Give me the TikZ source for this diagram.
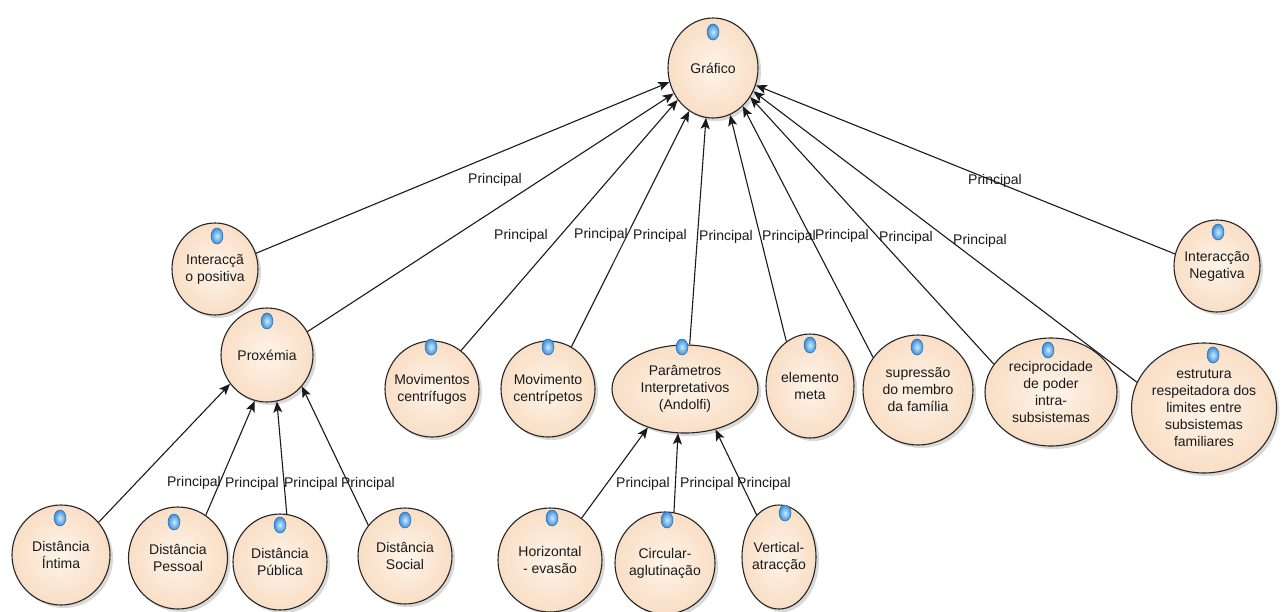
\documentclass[tikz,border=0pt]{standalone}
\usepackage{fontspec}
\setmainfont{Liberation Sans}
\usetikzlibrary{shapes.geometric,arrows.meta,shadows}
\definecolor{ink}{HTML}{1A1A1A}
\definecolor{peachin}{HTML}{FEF4EA}
\definecolor{peachout}{HTML}{F9DEC5}
\definecolor{rim}{HTML}{262626}
\definecolor{dotblue}{HTML}{3A8EDB}
\definecolor{dotlight}{HTML}{CDEBFF}

\tikzset{
  concept/.style={ellipse, draw=rim, line width=1.1pt, inner sep=-6pt, align=center,
    inner color=peachin, outer color=peachout, text=ink,
    font=\fontsize{14}{17}\selectfont,
    drop shadow={shadow xshift=3pt, shadow yshift=-3pt, opacity=0.15, fill=black}},
  marker/.style={ellipse, minimum width=12pt, minimum height=16pt, inner sep=0pt,
    inner color=dotlight, outer color=dotblue, draw=dotblue!75!black, line width=0.5pt},
  rel/.style={draw=ink, line width=1.1pt, -{Stealth[length=11pt,width=9pt,inset=2.5pt]}},
  tag/.style={font=\fontsize{14}{17}\selectfont, text=ink, inner sep=0pt},
}

\begin{document}
\begin{tikzpicture}[x=1pt,y=-1pt]
\useasboundingbox[fill=white] (0,0) rectangle (1284,611);

% concepts
\node[concept, minimum width=90pt,  minimum height=100pt] (G)   at (713,68)  {Gráfico};
\node[concept, minimum width=86pt,  minimum height=92pt]  (IP)  at (215,269) {Interacçã\\o positiva};
\node[concept, minimum width=86pt,  minimum height=92pt]  (IN)  at (1217,266) {Interacção\\Negativa};
\node[concept, minimum width=92pt,  minimum height=94pt]  (PX)  at (267,355) {Proxémia};
\node[concept, minimum width=94pt,  minimum height=96pt]  (MCF) at (432,389) {Movimentos\\centrífugos};
\node[concept, minimum width=94pt,  minimum height=96pt]  (MCP) at (548,389) {Movimento\\centrípetos};
\node[concept, minimum width=146pt, minimum height=88pt]  (PA)  at (685,389) {Parâmetros\\Interpretativos\\(Andolfi)};
\node[concept, minimum width=88pt,  minimum height=104pt] (EM)  at (810,386) {elemento\\meta};
\node[concept, minimum width=110pt, minimum height=110pt] (SM)  at (918,390) {supressão\\do membro\\da família};
\node[concept, minimum width=132pt, minimum height=108pt] (RP)  at (1051,392) {reciprocidade\\de poder\\intra-\\subsistemas};
\node[concept, minimum width=145pt, minimum height=130pt] (ER)  at (1204,408) {estrutura\\respeitadora dos\\limites entre\\subsistemas\\familiares};
\node[concept, minimum width=98pt,  minimum height=100pt] (DI)  at (61,555)  {Distância\\Íntima};
\node[concept, minimum width=99pt,  minimum height=102pt] (DP)  at (178,558) {Distância\\Pessoal};
\node[concept, minimum width=94pt,  minimum height=96pt]  (DB)  at (280,562) {Distância\\Pública};
\node[concept, minimum width=94pt,  minimum height=96pt]  (DS)  at (405,556) {Distância\\Social};
\node[concept, minimum width=104pt, minimum height=104pt] (HE)  at (550,560) {Horizontal\\- evasão};
\node[concept, minimum width=100pt, minimum height=102pt] (CA)  at (665,563) {Circular-\\aglutinação};
\node[concept, minimum width=74pt,  minimum height=104pt] (VA)  at (779,557) {Vertical-\\atracção};

% blue markers
\node[marker] (mG)   at (713,32)  {};
\node[marker] (mIP)  at (217,236) {};
\node[marker] (mIN)  at (1218,232) {};
\node[marker] (mPX)  at (267,321) {};
\node[marker] (mMCF) at (431,347) {};
\node[marker] (mMCP) at (548,347) {};
\node[marker] (mPA)  at (682,347) {};
\node[marker] (mEM)  at (810,345) {};
\node[marker] (mSM)  at (917,347) {};
\node[marker] (mRP)  at (1048,350) {};
\node[marker] (mER)  at (1213,355) {};
\node[marker] (mDI)  at (60,518)  {};
\node[marker] (mDP)  at (174,522) {};
\node[marker] (mDB)  at (280,525) {};
\node[marker] (mDS)  at (405,520) {};
\node[marker] (mHE)  at (552,518) {};
\node[marker] (mCA)  at (667,520) {};
\node[marker] (mVA)  at (785,513) {};

% relations into Gráfico
\draw[rel] (IP.21)   -- (G.198);
\draw[rel] (PX.30)   -- (G.213);
\draw[rel] (MCF.53)  -- (G.222);
\draw[rel] (MCP.61)  -- (G.241);
\draw[rel] (PA.84)   -- (G.262);
\draw[rel] (EM.118)  -- (G.290);
\draw[rel] (SM.144)  -- (G.308);
\draw[rel] (RP.154)  -- (G.322);
\draw[rel] (ER.159)  -- (G.330);
\draw[rel] (IN.164)  -- (G.338);

% relations into Proxémia
\draw[rel] (DI.41)  -- (PX.218);
\draw[rel] (DP.57)  -- (PX.255);
\draw[rel] (DB.82)  -- (PX.282);
\draw[rel] (DS.140) -- (PX.318);

% relations into Parâmetros Interpretativos
\draw[rel] (HE.53)  -- (PA.226);
\draw[rel] (CA.80)  -- (PA.261);
\draw[rel] (VA.118) -- (PA.307);

% relation labels
\node[tag] (t1)  at (495,180) {Principal};
\node[tag] (t2)  at (521,236) {Principal};
\node[tag] (t3)  at (601,235) {Principal};
\node[tag] (t4)  at (660,236) {Principal};
\node[tag] (t5)  at (726,237) {Principal};
\node[tag] (t6)  at (789,237) {Principal};
\node[tag] (t7)  at (842,236) {Principal};
\node[tag] (t8)  at (906,238) {Principal};
\node[tag] (t9)  at (980,241) {Principal};
\node[tag] (t10) at (995,181) {Principal};
\node[tag] (t11) at (194,483) {Principal};
\node[tag] (t12) at (252,484) {Principal};
\node[tag] (t13) at (311,484) {Principal};
\node[tag] (t14) at (368,484) {Principal};
\node[tag] (t15) at (643,484) {Principal};
\node[tag] (t16) at (707,484) {Principal};
\node[tag] (t17) at (764,484) {Principal};
\end{tikzpicture}
\end{document}
